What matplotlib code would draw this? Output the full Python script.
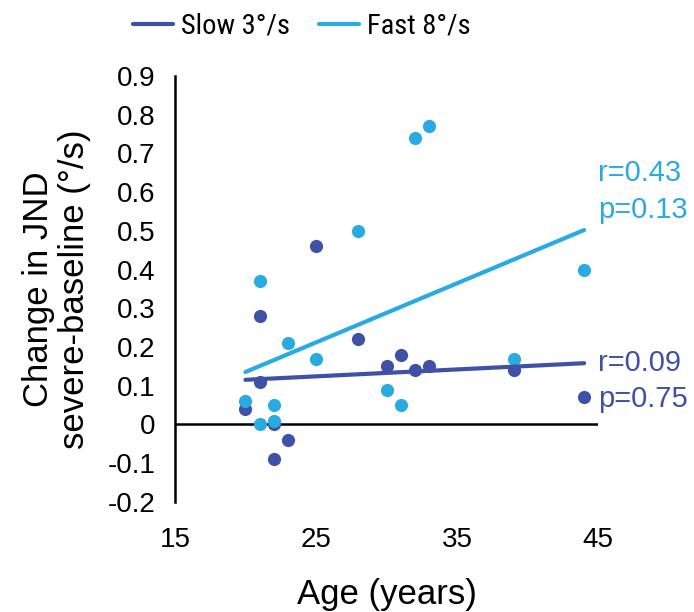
import numpy as np
import matplotlib
matplotlib.use("Agg")
import matplotlib.pyplot as plt
from matplotlib import font_manager

plt.rcParams['font.family'] = ['Liberation Sans', 'DejaVu Sans']

age_slow = [20, 21, 21, 22, 22, 23, 25, 28, 30, 31, 32, 33, 39, 44]
val_slow = [0.04, 0.28, 0.11, 0.00, -0.09, -0.04, 0.46, 0.22, 0.15, 0.18, 0.14, 0.15, 0.14, 0.07]
age_fast = [20, 21, 21, 22, 22, 23, 25, 28, 30, 31, 32, 33, 39, 44]
val_fast = [0.06, 0.37, 0.00, 0.05, 0.01, 0.21, 0.17, 0.50, 0.09, 0.05, 0.74, 0.77, 0.17, 0.40]
labels = ["Slow 3°/s", "Fast 8°/s"]
stats_slow = ["r=0.09", "p=0.75"]
stats_fast = ["r=0.43", "p=0.13"]
xticks = [15, 25, 35, 45]
yticks = [-0.2, -0.1, 0, 0.1, 0.2, 0.3, 0.4, 0.5, 0.6, 0.7, 0.8, 0.9]

c_slow = "#3F51A6"
c_fast = "#29ABE2"

# pick a narrow font for the legend if one is installed
narrow = None
names = sorted({f.name for f in font_manager.fontManager.ttflist})
for cand in ["Liberation Sans Narrow", "Arial Narrow", "Roboto Condensed", "Open Sans Condensed",
             "DejaVu Sans Condensed"]:
    if cand in names:
        narrow = cand
        break
if narrow is None:
    leg_prop = {'family': ['Liberation Sans'], 'size': 18}
else:
    leg_prop = {'family': [narrow, 'Liberation Sans'], 'size': 20.5}

fig = plt.figure(figsize=(6.94, 6.12), dpi=100)
ax = fig.add_axes([0.252, 0.180, 0.610, 0.696])

ax.scatter(age_slow, val_slow, s=90, color=c_slow, zorder=3, linewidths=0)
ax.scatter(age_fast, val_fast, s=90, color=c_fast, zorder=4, linewidths=0)

for a, v, c, lab in [(age_slow, val_slow, c_slow, labels[0]), (age_fast, val_fast, c_fast, labels[1])]:
    a = np.array(a, float); v = np.array(v, float)
    m, b = np.polyfit(a, v, 1)
    xs = np.array([a.min(), a.max()])
    ax.plot(xs, m * xs + b, color=c, lw=3, solid_capstyle='round', zorder=5, label=lab)

ax.axhline(0, color='black', lw=1.8, zorder=2)

ax.set_xlim(15, 45)
ax.set_ylim(-0.2, 0.9)
ax.set_xticks(xticks)
ax.set_yticks(yticks)
ax.set_yticklabels(["0" if t == 0 else "%.1f" % t for t in yticks])
ax.tick_params(axis='both', length=0, labelsize=20, colors='black')
ax.tick_params(axis='x', pad=18)
ax.tick_params(axis='y', pad=14)
for s in ['top', 'right', 'bottom']:
    ax.spines[s].set_visible(False)
ax.spines['left'].set_linewidth(1.8)

ax.set_xlabel("Age (years)", fontsize=25, labelpad=18)
ax.set_ylabel("Change in JND\nsevere-baseline (°/s)", fontsize=25, labelpad=12, linespacing=1.1)

fig.text(598/694, 1 - 173/612, stats_fast[0], color=c_fast, fontsize=21, va='center', ha='left')
fig.text(598/694, 1 - 210/612, stats_fast[1], color=c_fast, fontsize=21, va='center', ha='left')
fig.text(598/694, 1 - 363/612, stats_slow[0], color=c_slow, fontsize=21, va='center', ha='left')
fig.text(598/694, 1 - 399/612, stats_slow[1], color=c_slow, fontsize=21, va='center', ha='left')

leg = fig.legend(loc='center', bbox_to_anchor=(302/694, 1 - 26/612), ncol=2, frameon=False,
                 prop=leg_prop, handlelength=1.4, handletextpad=0.3, columnspacing=1.0)

fig.savefig("out.png", dpi=100)
